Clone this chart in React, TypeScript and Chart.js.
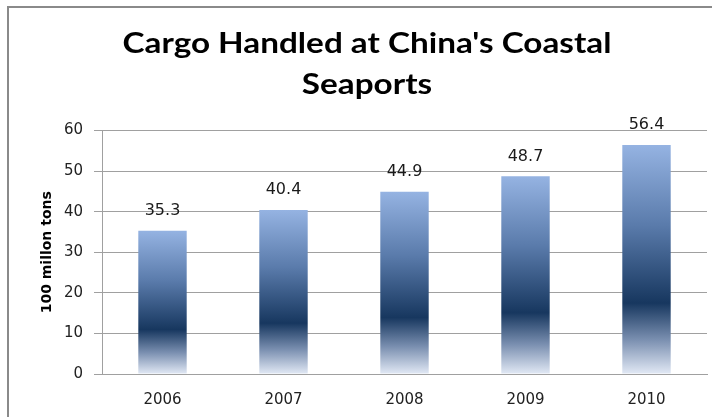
import { useEffect, useRef } from 'react';
import { Chart, registerables } from 'chart.js';

Chart.register(...registerables);

const categories = ['2006', '2007', '2008', '2009', '2010'];
const cargoValues = [35.3, 40.4, 44.9, 48.7, 56.4];
const yTickMin = 0;
const yTickMax = 60;
const yTickStep = 10;
const titleLines = ["Cargo Handled at China's Coastal", 'Seaports'];
const yAxisTitle = '100 millon tons';

const framePlugin = {
  id: 'frameAndTitles',
  beforeDraw(chart: any) {
    const c = chart.ctx;
    c.save();
    c.fillStyle = '#ffffff';
    c.fillRect(0, 0, chart.width, chart.height);
    c.strokeStyle = '#8a8a8a';
    c.lineWidth = 2;
    c.strokeRect(8, 7, 900, 600);
    c.restore();
  },
  afterDraw(chart: any) {
    const c = chart.ctx;
    const area = chart.chartArea;
    c.save();
    c.fillStyle = '#000000';
    c.font = 'bold 29px Lato';
    c.textAlign = 'center';
    c.textBaseline = 'alphabetic';
    const w = c.measureText(titleLines[0]).width;
    const sx = 489 / w;
    c.save();
    c.translate(367, 0);
    c.scale(sx, 1);
    c.fillText(titleLines[0], 0, 53);
    c.fillText(titleLines[1], 0, 94);
    c.restore();
    c.translate(47, (area.top + area.bottom) / 2);
    c.rotate(-Math.PI / 2);
    c.font = 'bold 14px "DejaVu Sans"';
    c.textBaseline = 'middle';
    c.fillText(yAxisTitle, 0, 0);
    c.restore();
  },
  afterDatasetsDraw(chart: any) {
    const c = chart.ctx;
    const meta = chart.getDatasetMeta(0);
    const data = chart.data.datasets[0].data as number[];
    c.save();
    c.fillStyle = '#1a1a1a';
    c.font = '16px "DejaVu Sans"';
    c.textAlign = 'center';
    c.textBaseline = 'middle';
    meta.data.forEach((el: any, i: number) => {
      c.fillText(data[i].toFixed(1), el.x, el.y - 20);
    });
    c.restore();
  },
};

export default function App() {
  const ref = useRef<HTMLCanvasElement | null>(null);

  useEffect(() => {
    if (!ref.current) return;
    const chart = new Chart(ref.current, {
      type: 'bar',
      data: {
        labels: categories,
        datasets: [
          {
            data: cargoValues,
            barPercentage: 0.4,
            categoryPercentage: 1.0,
            backgroundColor: (ctx: any) => {
              const ch = ctx.chart;
              if (!ch.chartArea || ctx.type !== 'data') return '#3d5f8f';
              const ys = ch.scales.y;
              const top = ys.getPixelForValue(ctx.raw as number);
              const base = ys.getPixelForValue(0);
              const g = ch.ctx.createLinearGradient(0, top, 0, base);
              g.addColorStop(0, '#95b3e2');
              g.addColorStop(0.35, '#5a7bab');
              g.addColorStop(0.69, '#17375f');
              g.addColorStop(0.85, '#7a8fb0');
              g.addColorStop(1, '#e2e9f5');
              return g;
            },
          },
        ],
      },
      options: {
        responsive: false,
        animation: false,
        layout: { padding: { top: 130.5, right: 5, left: 0, bottom: 0 } },
        plugins: {
          legend: { display: false },
          title: { display: false },
          tooltip: { enabled: false },
        },
        scales: {
          x: {
            afterFit: (s: any) => {
              s.height = 43;
            },
            grid: { display: false, drawTicks: false },
            border: { display: true, color: '#a0a0a0', width: 1 },
            ticks: {
              color: '#222222',
              font: { family: 'DejaVu Sans', size: 15 },
              padding: 17,
            },
          },
          y: {
            min: yTickMin,
            max: yTickMax,
            afterFit: (s: any) => {
              s.width = 102;
            },
            grid: { color: '#a0a0a0', lineWidth: 1, drawTicks: true, tickLength: 8 },
            border: { display: true, color: '#a0a0a0', width: 1 },
            ticks: {
              stepSize: yTickStep,
              color: '#222222',
              font: { family: 'DejaVu Sans', size: 15 },
              padding: 11,
            },
          },
        },
      },
      plugins: [framePlugin],
    });
    return () => chart.destroy();
  }, []);

  return (
    <div style={{ position: 'absolute', left: 0, top: 0, width: 712, height: 417 }}>
      <canvas ref={ref} width={712} height={417} />
    </div>
  );
}
